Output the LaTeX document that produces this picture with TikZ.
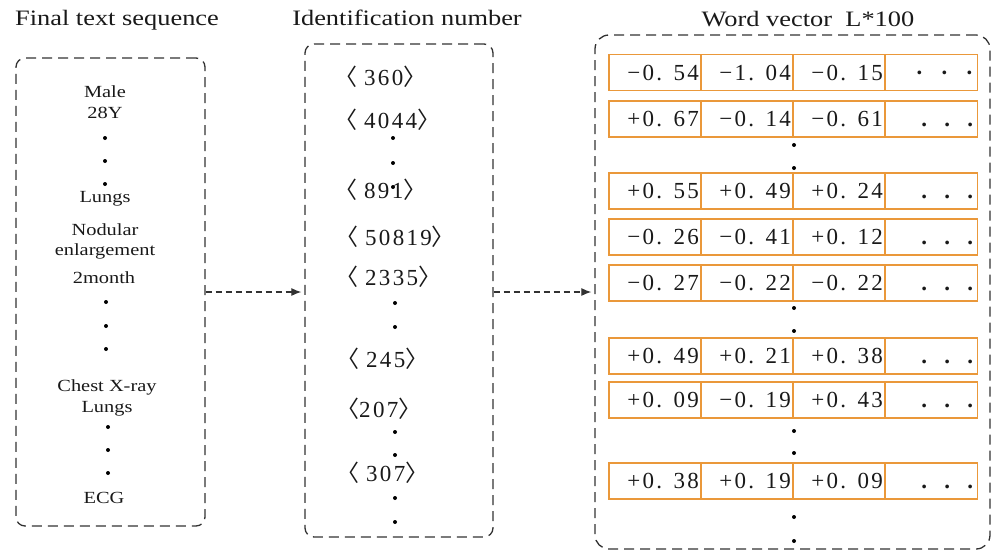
\documentclass[tikz,border=0pt]{standalone}
\usepackage{fontspec}
\setmainfont{Liberation Serif}
\newfontfamily\labfont{Liberation Serif}[FakeStretch=1.2]
\newfontfamily\numfont{Liberation Serif}[LetterSpace=10]
\newfontfamily\cjkfont{Noto Sans CJK SC}
\usetikzlibrary{arrows.meta}
\definecolor{cellor}{RGB}{234,152,58}
\definecolor{dashgray}{RGB}{50,50,50}
\newcommand{\idn}[1]{{\cjkfont 〈}\hspace{7pt}#1{\cjkfont 〉}}
\tikzset{
 dbox/.style={draw=dashgray, line width=1.3pt, dash pattern=on 10pt off 6pt, rounded corners=9pt, inner sep=0},
 conn/.style={draw=dashgray, line width=1.2pt, dash pattern=on 6pt off 4pt, -{Latex[length=10pt,width=8pt]}, shorten >=3pt},
 title/.style={font=\labfont\fontsize{22}{26}\selectfont, text=black!90, anchor=base, inner sep=0},
 seqtxt/.style={font=\labfont\fontsize{17}{20}\selectfont, text=black!90, anchor=base, inner sep=0},
 idtxt/.style={font=\numfont\fontsize{23}{26}\selectfont, anchor=base west, inner sep=0, text=black!90},
 cell/.style={draw=cellor, line width=1.5pt, minimum width=92pt, minimum height=36pt, text width=88pt, text height=15.5pt, text depth=0pt, align=right, inner sep=2pt, font=\numfont\fontsize{23}{26}\selectfont, text=black!90},
 vdot/.style={circle, fill=black, inner sep=0, minimum size=4pt},
}
\begin{document}
\begin{tikzpicture}[x=1pt,y=-1pt]
\useasboundingbox (0,0) rectangle (992,551);
% titles
\node[title] (t1) at (117,26) {Final text sequence};
\node[title] (t2) at (407,26) {Identification number};
\node[title] (t3) at (808,27) {Word vector\ \ L*100};
% boxes
\node[dbox, minimum width=189pt, minimum height=468pt] (seq) at (110.5,292) {};
\node[dbox, minimum width=188pt, minimum height=493pt] (ids) at (399,290.5) {};
\node[dbox, minimum width=395pt, minimum height=514pt, rounded corners=14pt] (vec) at (792.5,292) {};
% connectors
\draw[conn] (seq.east) -- (seq.east -| ids.west);
\draw[conn] (seq.east -| ids.east) -- (seq.east -| vec.west);
% left column
\node[seqtxt] (s1) at (105,97) {Male};
\node[seqtxt] (s2) at (105,118) {28Y};
\node[seqtxt] (s3) at (105,202) {Lungs};
\node[seqtxt] (s4) at (105,235) {Nodular};
\node[seqtxt] (s5) at (105,255) {enlargement};
\node[seqtxt] (s6) at (104,283) {2month};
\node[seqtxt] (s7) at (107,391) {Chest X-ray};
\node[seqtxt] (s8) at (107,412) {Lungs};
\node[seqtxt] (s9) at (104,503) {ECG};
\foreach \i/\x/\y in {1/105/138,2/105/161,3/105/184,4/106/302,5/106/326,6/106/349,7/108/427,8/108/450,9/108/473}
  \node[vdot] (ld\i) at (\x,\y) {};
% middle column
\node[idtxt] (i1) at (334,85) {\idn{360}};
\node[idtxt] (i2) at (334,128) {\idn{4044}};
\node[idtxt] (i3) at (334,198) {\idn{891}};
\node[idtxt] (i4) at (335,245) {\idn{50819}};
\node[idtxt] (i5) at (335,285) {\idn{2335}};
\node[idtxt] (i6) at (336,367) {\idn{245}};
\node[idtxt] (i7) at (336,417) {{\cjkfont 〈}207{\cjkfont 〉}};
\node[idtxt] (i8) at (336,481) {\idn{307}};
\foreach \i/\x/\y in {1/393/138,2/393/163,3/393/187,4/395/303,5/395/327,6/395/432,7/395/455,8/395/498,9/395/522}
  \node[vdot] (md\i) at (\x,\y) {};
% right column: word vectors
\foreach \r/\y/\a/\b/\c in {1/72.5/−0. 54/−1. 04/−0. 15, 2/119/+0. 67/−0. 14/−0. 61, 3/191/+0. 55/+0. 49/+0. 24, 4/237/−0. 26/−0. 41/+0. 12, 5/283/−0. 27/−0. 22/−0. 22, 6/356/+0. 49/+0. 21/+0. 38, 7/400/+0. 09/−0. 19/+0. 43, 8/481/+0. 38/+0. 19/+0. 09}{
  \node[cell] (r\r c1) at (655,\y) {\a};
  \node[cell] (r\r c2) at (747,\y) {\b};
  \node[cell] (r\r c3) at (839,\y) {\c};
}
\node[cell] (r1c4) at (931.5,72.5) {\textbf{·}\hspace{15pt}\textbf{·}\hspace{15pt}\textbf{·}\hspace{5pt}};
\foreach \r/\y in {2/119,3/191,4/237,5/283,6/356,7/400,8/481}
  \node[cell] (r\r c4) at (931.5,\y) {\textbf{.}\hspace{15pt}\textbf{.}\hspace{15pt}\textbf{.}\hspace{5pt}};
\foreach \i/\y in {1/145,2/168,3/308,4/331,5/431,6/453,7/517,8/541}
  \node[vdot] (rd\i) at (794,\y) {};
\end{tikzpicture}
\end{document}
